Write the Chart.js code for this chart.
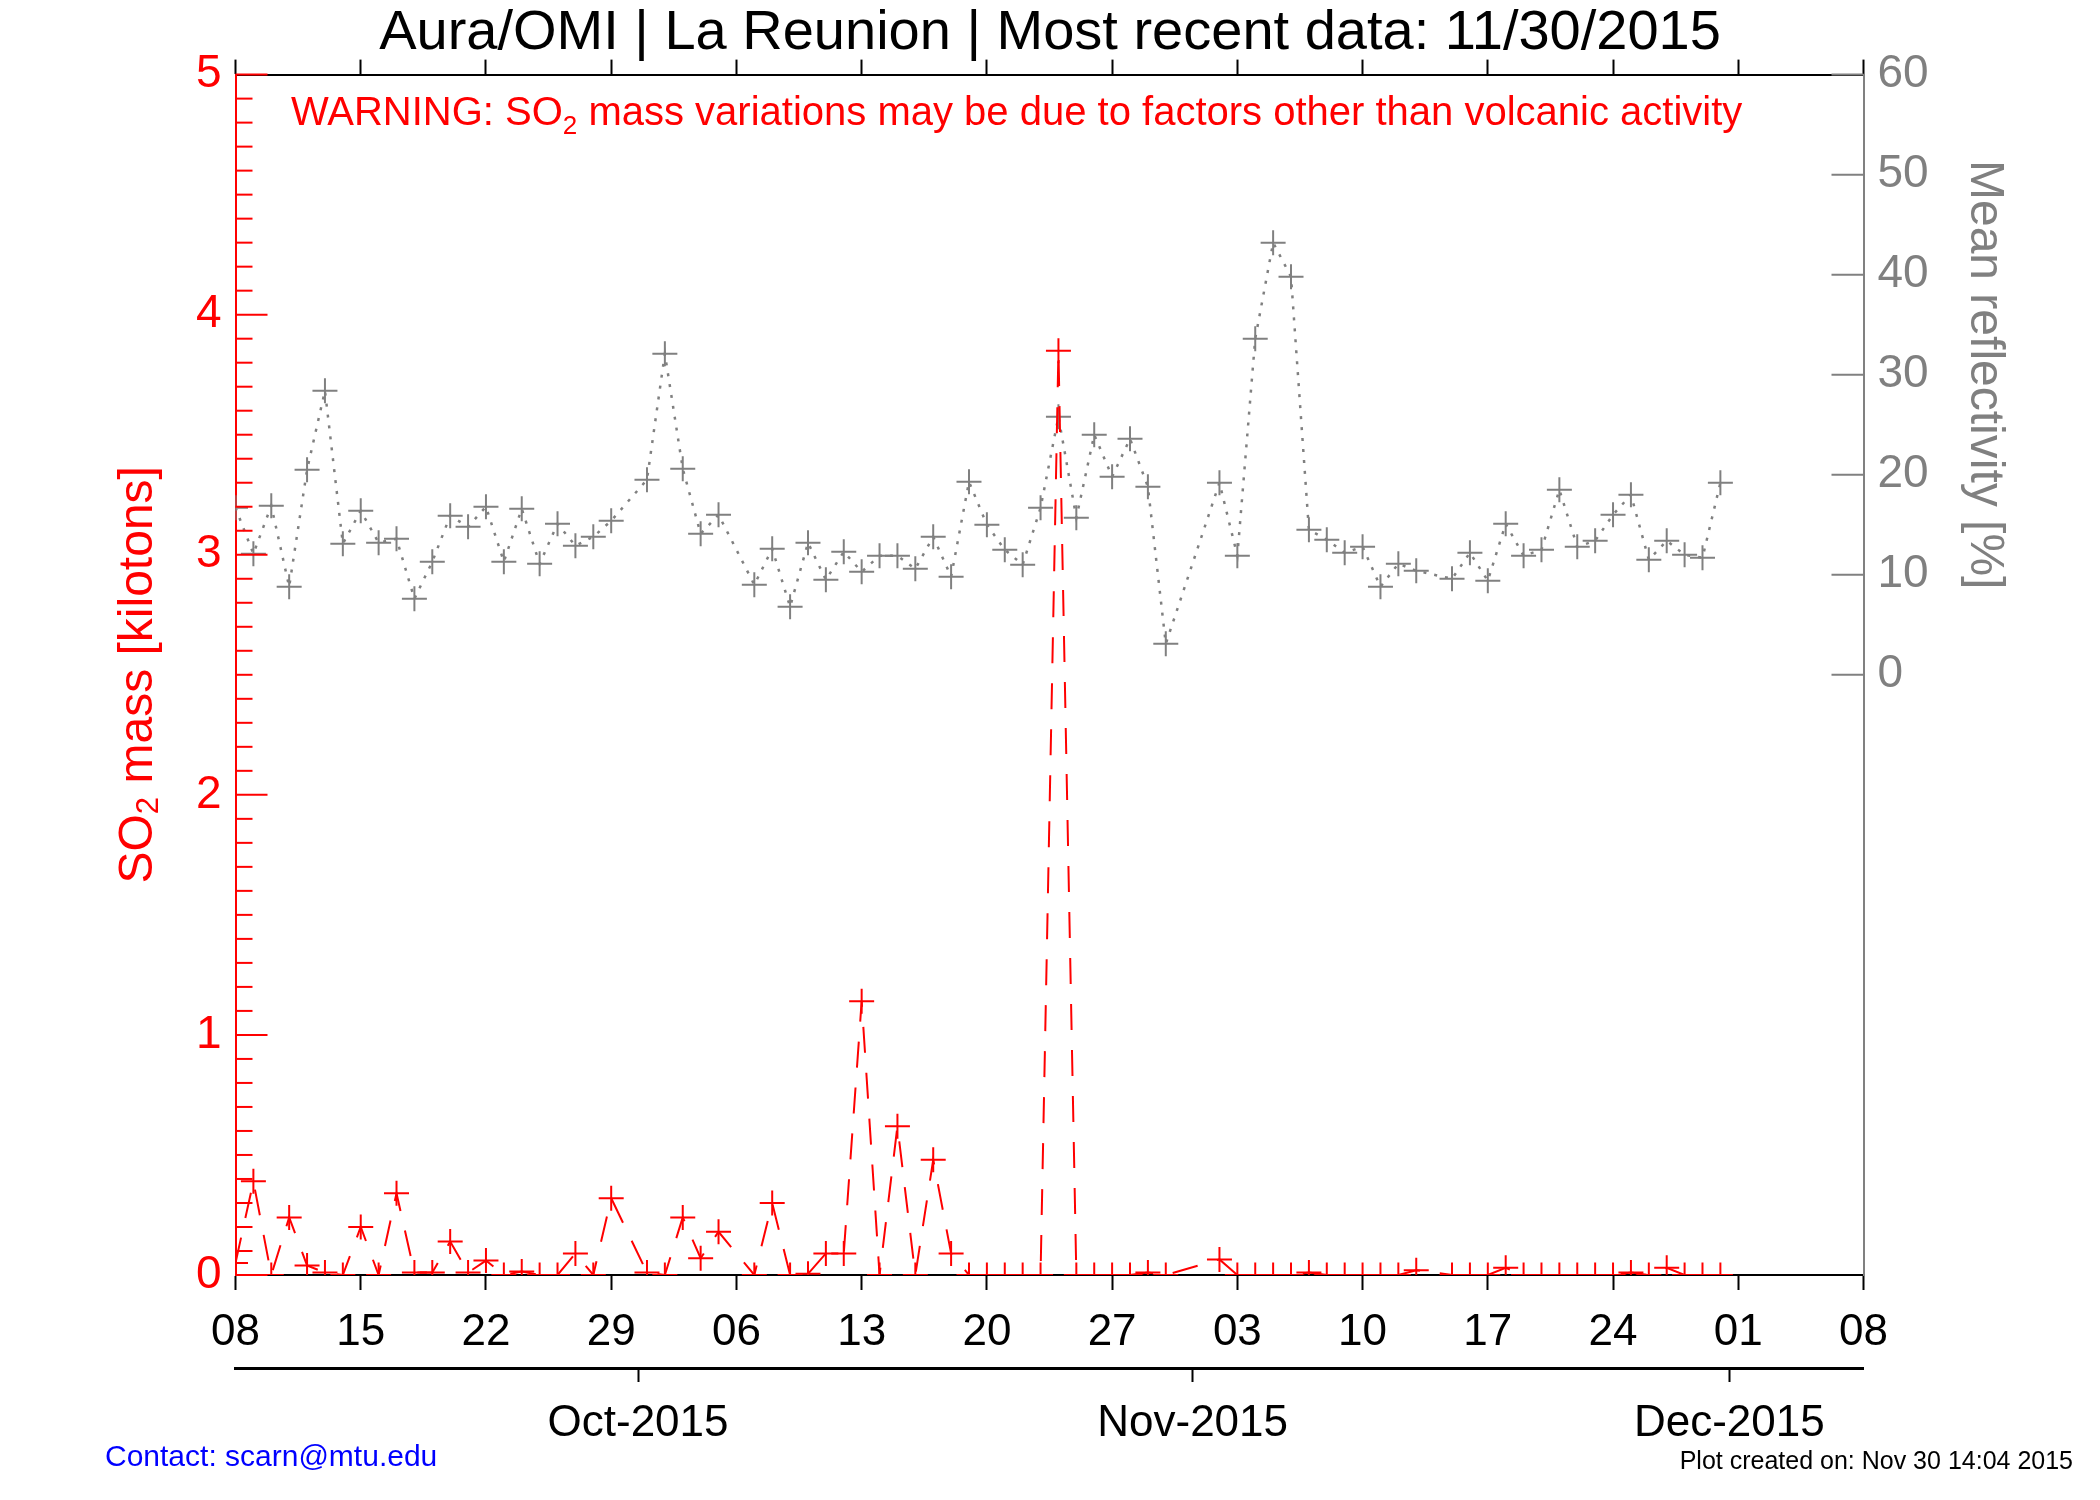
<!DOCTYPE html>
<html>
<head>
<meta charset="utf-8">
<title>Aura/OMI | La Reunion</title>
<script src="https://cdn.jsdelivr.net/npm/chart.js@4.4.0/dist/chart.umd.min.js"></script>
<style>
  body { margin: 0; background: #fff; }
  canvas { display: block; }
</style>
</head>
<body>
<canvas id="chart" width="2100" height="1500"></canvas>
<script>
// daily OMI overpass values, 2015 (no data on Sep 30, Oct 6, Oct 31, Nov 1, Nov 14)
const dates = [
    '09-08', '09-09', '09-10', '09-11', '09-12', '09-13', '09-14', '09-15', '09-16', '09-17', '09-18',
    '09-19', '09-20', '09-21', '09-22', '09-23', '09-24', '09-25', '09-26', '09-27', '09-28', '09-29',
    '10-01', '10-02', '10-03', '10-04', '10-05',
    '10-07', '10-08', '10-09', '10-10', '10-11', '10-12', '10-13', '10-14', '10-15', '10-16', '10-17', '10-18',
    '10-19', '10-20', '10-21', '10-22', '10-23', '10-24', '10-25', '10-26', '10-27', '10-28', '10-29', '10-30',
    '11-02', '11-03', '11-04', '11-05', '11-06', '11-07', '11-08', '11-09', '11-10', '11-11', '11-12', '11-13',
    '11-15', '11-16', '11-17', '11-18', '11-19', '11-20', '11-21', '11-22', '11-23', '11-24', '11-25', '11-26',
    '11-27', '11-28', '11-29', '11-30'
];

// SO2 mass [kilotons]
const so2Mass = [
    0.05, 0.39, 0, 0.24, 0.04, 0.01, 0, 0.20, 0, 0.34, 0.01,
    0.01, 0.14, 0.01, 0.06, 0, 0.015, 0, 0, 0.09, 0, 0.32,
    0.01, 0, 0.24, 0.07, 0.18,
    0, 0.30, 0, 0.005, 0.09, 0.09, 1.14, 0, 0.62, 0, 0.48, 0.09,
    0, 0, 0, 0, 0, 3.85, 0, 0, 0, 0, 0.01, 0,
    0.065, 0, 0, 0, 0, 0.01, 0, 0, 0, 0, 0, 0.02,
    0, 0, 0, 0.03, 0, 0, 0, 0, 0, 0, 0.01, 0,
    0.03, 0, 0, 0
];

// mean reflectivity [%]
const reflectivity = [
    16.7, 12.1, 16.9, 8.8, 20.5, 28.4, 13.1, 16.4, 13.2, 13.6, 7.6,
    11.3, 15.9, 14.8, 16.8, 11.3, 16.6, 11.1, 15.1, 12.9, 13.8, 15.4,
    19.5, 32.1, 20.6, 14.1, 16.0,
    9.0, 12.6, 6.8, 13.2, 9.5, 12.3, 10.3, 11.9, 11.9, 10.6, 13.8, 9.8,
    19.3, 15.0, 12.5, 11.0, 16.7, 25.8, 15.7, 24.0, 19.8, 23.6, 18.8, 3.1,
    19.2, 11.9, 33.6, 43.2, 39.8, 14.5, 13.5, 12.2, 12.8, 8.8, 11.1, 10.4,
    9.6, 12.2, 9.4, 15.1, 11.9, 12.5, 18.5, 12.8, 13.4, 16.0, 18.0, 11.5,
    13.4, 12.0, 11.7, 19.2
];

const so2Ticks = [0, 1, 2, 3, 4, 5];
const reflTicks = [0, 10, 20, 30, 40, 50, 60];
const monthStarts = ['10-01', '11-01', '12-01'];
const monthLabels = ['Oct-2015', 'Nov-2015', 'Dec-2015'];

const RED = '#ff0000';
const GRAY = '#808080';
const FONT = '"Liberation Sans", Arial, Helvetica, sans-serif';
const START = Date.UTC(2015, 8, 8);

function dayIndex(md) {
    const [m, d] = md.split('-').map(Number);
    return (Date.UTC(2015, m - 1, d) - START) / 864e5;
}

function dayLabel(v) {
    return String(new Date(START + v * 864e5).getUTCDate()).padStart(2, '0');
}

// text with a subscript piece, e.g. SO2
function drawRich(ctx, parts, x, y, size, align) {
    let w = 0;
    parts.forEach(p => {
        ctx.font = (p[1] ? size * 0.65 : size) + 'px ' + FONT;
        w += ctx.measureText(p[0]).width;
    });
    let cx = align === 'center' ? x - w / 2 : x;
    parts.forEach(p => {
        ctx.font = (p[1] ? size * 0.65 : size) + 'px ' + FONT;
        ctx.fillText(p[0], cx, p[1] ? y + size * 0.22 : y);
        cx += ctx.measureText(p[0]).width;
    });
}

function seg(ctx, x1, y1, x2, y2) {
    ctx.beginPath();
    ctx.moveTo(x1, y1);
    ctx.lineTo(x2, y2);
    ctx.stroke();
}

const decor = {
    id: 'decor',
    afterDraw(chart) {
        const { ctx, chartArea: a, scales } = chart;
        ctx.save();
        ctx.lineWidth = 2;

        // inward ticks, left axis: majors at whole kt, minors every 0.1
        ctx.strokeStyle = RED;
        for (let i = 0; i <= 50; i++) {
            const y = scales.y.getPixelForValue(i / 10);
            seg(ctx, a.left, y, a.left + (i % 10 === 0 ? 32 : 17), y);
        }
        // inward ticks, right axis
        ctx.strokeStyle = GRAY;
        reflTicks.forEach(v => {
            const y = scales.yR.getPixelForValue(v);
            seg(ctx, a.right - 32, y, a.right, y);
        });

        // warning line
        ctx.fillStyle = RED;
        ctx.textBaseline = 'alphabetic';
        drawRich(ctx, [['WARNING: SO'], ['2', true], [' mass variations may be due to factors other than volcanic activity']],
            291, 125, 40, 'left');

        // left axis title
        ctx.save();
        ctx.translate(139, (a.top + a.bottom) / 2);
        ctx.rotate(-Math.PI / 2);
        ctx.textBaseline = 'middle';
        drawRich(ctx, [['SO'], ['2', true], [' mass [kilotons]']], 0, 0, 48, 'center');
        ctx.restore();

        // right axis title, centred on the 0-60 % part
        ctx.save();
        ctx.translate(1984, (scales.yR.getPixelForValue(0) + scales.yR.getPixelForValue(60)) / 2);
        ctx.rotate(Math.PI / 2);
        ctx.fillStyle = GRAY;
        ctx.textBaseline = 'middle';
        ctx.textAlign = 'center';
        ctx.font = '48px ' + FONT;
        ctx.fillText('Mean reflectivity [%]', 0, 0);
        ctx.restore();

        // footer
        ctx.textBaseline = 'middle';
        ctx.fillStyle = '#0000ff';
        ctx.font = '30px ' + FONT;
        ctx.fillText('Contact: scarn@mtu.edu', 105, 1458);
        ctx.fillStyle = '#000';
        ctx.textAlign = 'right';
        ctx.font = '25px ' + FONT;
        ctx.fillText('Plot created on: Nov 30 14:04 2015', 2073, 1462);
        ctx.restore();
    }
};

Chart.defaults.font.family = FONT;

const days = dates.map(dayIndex);

new Chart(document.getElementById('chart'), {
    type: 'line',
    data: {
        datasets: [{
                label: 'SO2 mass',
                data: days.map((d, i) => ({ x: d, y: so2Mass[i] })),
                xAxisID: 'x',
                yAxisID: 'y',
                borderColor: RED,
                borderWidth: 2,
                borderDash: [26, 20],
                pointStyle: 'cross',
                pointRadius: 12.5,
                pointBorderWidth: 2,
                pointBorderColor: RED,
                tension: 0,
                clip: 0
            },
            {
                label: 'Mean reflectivity',
                data: days.map((d, i) => ({ x: d, y: reflectivity[i] })),
                xAxisID: 'x',
                yAxisID: 'yR',
                borderColor: GRAY,
                borderWidth: 2.5,
                borderDash: [3, 8],
                pointStyle: 'cross',
                pointRadius: 12.5,
                pointBorderWidth: 2,
                pointBorderColor: GRAY,
                tension: 0,
                clip: 0
            }
        ]
    },
    options: {
        responsive: false,
        animation: false,
        devicePixelRatio: 1,
        layout: { padding: 0 },
        plugins: {
            legend: { display: false },
            tooltip: { enabled: false },
            title: {
                display: true,
                text: 'Aura/OMI | La Reunion | Most recent data: 11/30/2015',
                color: '#000',
                font: { size: 56, weight: 'normal' },
                padding: { top: 0, bottom: 0 }
            }
        },
        scales: {
            x: {
                type: 'linear',
                position: 'bottom',
                min: 0,
                max: 91,
                weight: 0,
                ticks: {
                    stepSize: 7,
                    autoSkip: false,
                    maxRotation: 0,
                    padding: 16,
                    color: '#000',
                    font: { size: 44 },
                    callback: v => dayLabel(v)
                },
                grid: { drawOnChartArea: false, tickLength: 15, tickColor: '#000', tickWidth: 2 },
                border: { color: '#000', width: 2 },
                afterFit: s => { s.height = 93; }
            },
            x2: {
                type: 'linear',
                position: 'bottom',
                min: 0,
                max: 91,
                weight: 1,
                // month boundaries fall half a day before the daily (noon) ticks
                afterBuildTicks: s => { s.ticks = monthStarts.map(m => ({ value: dayIndex(m) - 0.5 })); },
                ticks: {
                    autoSkip: false,
                    maxRotation: 0,
                    padding: 15,
                    color: '#000',
                    font: { size: 44 },
                    callback: (v, i) => monthLabels[i]
                },
                grid: { drawOnChartArea: false, tickLength: 14, tickColor: '#000', tickWidth: 2 },
                border: { color: '#000', width: 3 },
                afterFit: s => { s.height = 132; }
            },
            xTop: {
                type: 'linear',
                position: 'top',
                min: 0,
                max: 91,
                ticks: { stepSize: 7, display: false },
                grid: { drawOnChartArea: false, tickLength: 15, tickColor: '#000', tickWidth: 2 },
                border: { color: '#000', width: 2 },
                afterFit: s => { s.height = 7.4; }
            },
            y: {
                type: 'linear',
                position: 'left',
                min: 0,
                max: 5,
                afterBuildTicks: s => { s.ticks = so2Ticks.map(v => ({ value: v })); },
                ticks: { color: RED, font: { size: 46 }, padding: 14 },
                grid: { drawOnChartArea: false, drawTicks: false },
                border: { color: RED, width: 2 },
                afterFit: s => { s.width = 235.5; }
            },
            yR: {
                type: 'linear',
                position: 'right',
                min: -60,
                max: 60,
                afterBuildTicks: s => { s.ticks = reflTicks.map(v => ({ value: v })); },
                ticks: { color: GRAY, font: { size: 46 }, padding: 14 },
                grid: { drawOnChartArea: false, drawTicks: false },
                border: { color: GRAY, width: 2 },
                afterFit: s => { s.width = 236.5; }
            }
        }
    },
    plugins: [decor]
});
</script>
</body>
</html>
